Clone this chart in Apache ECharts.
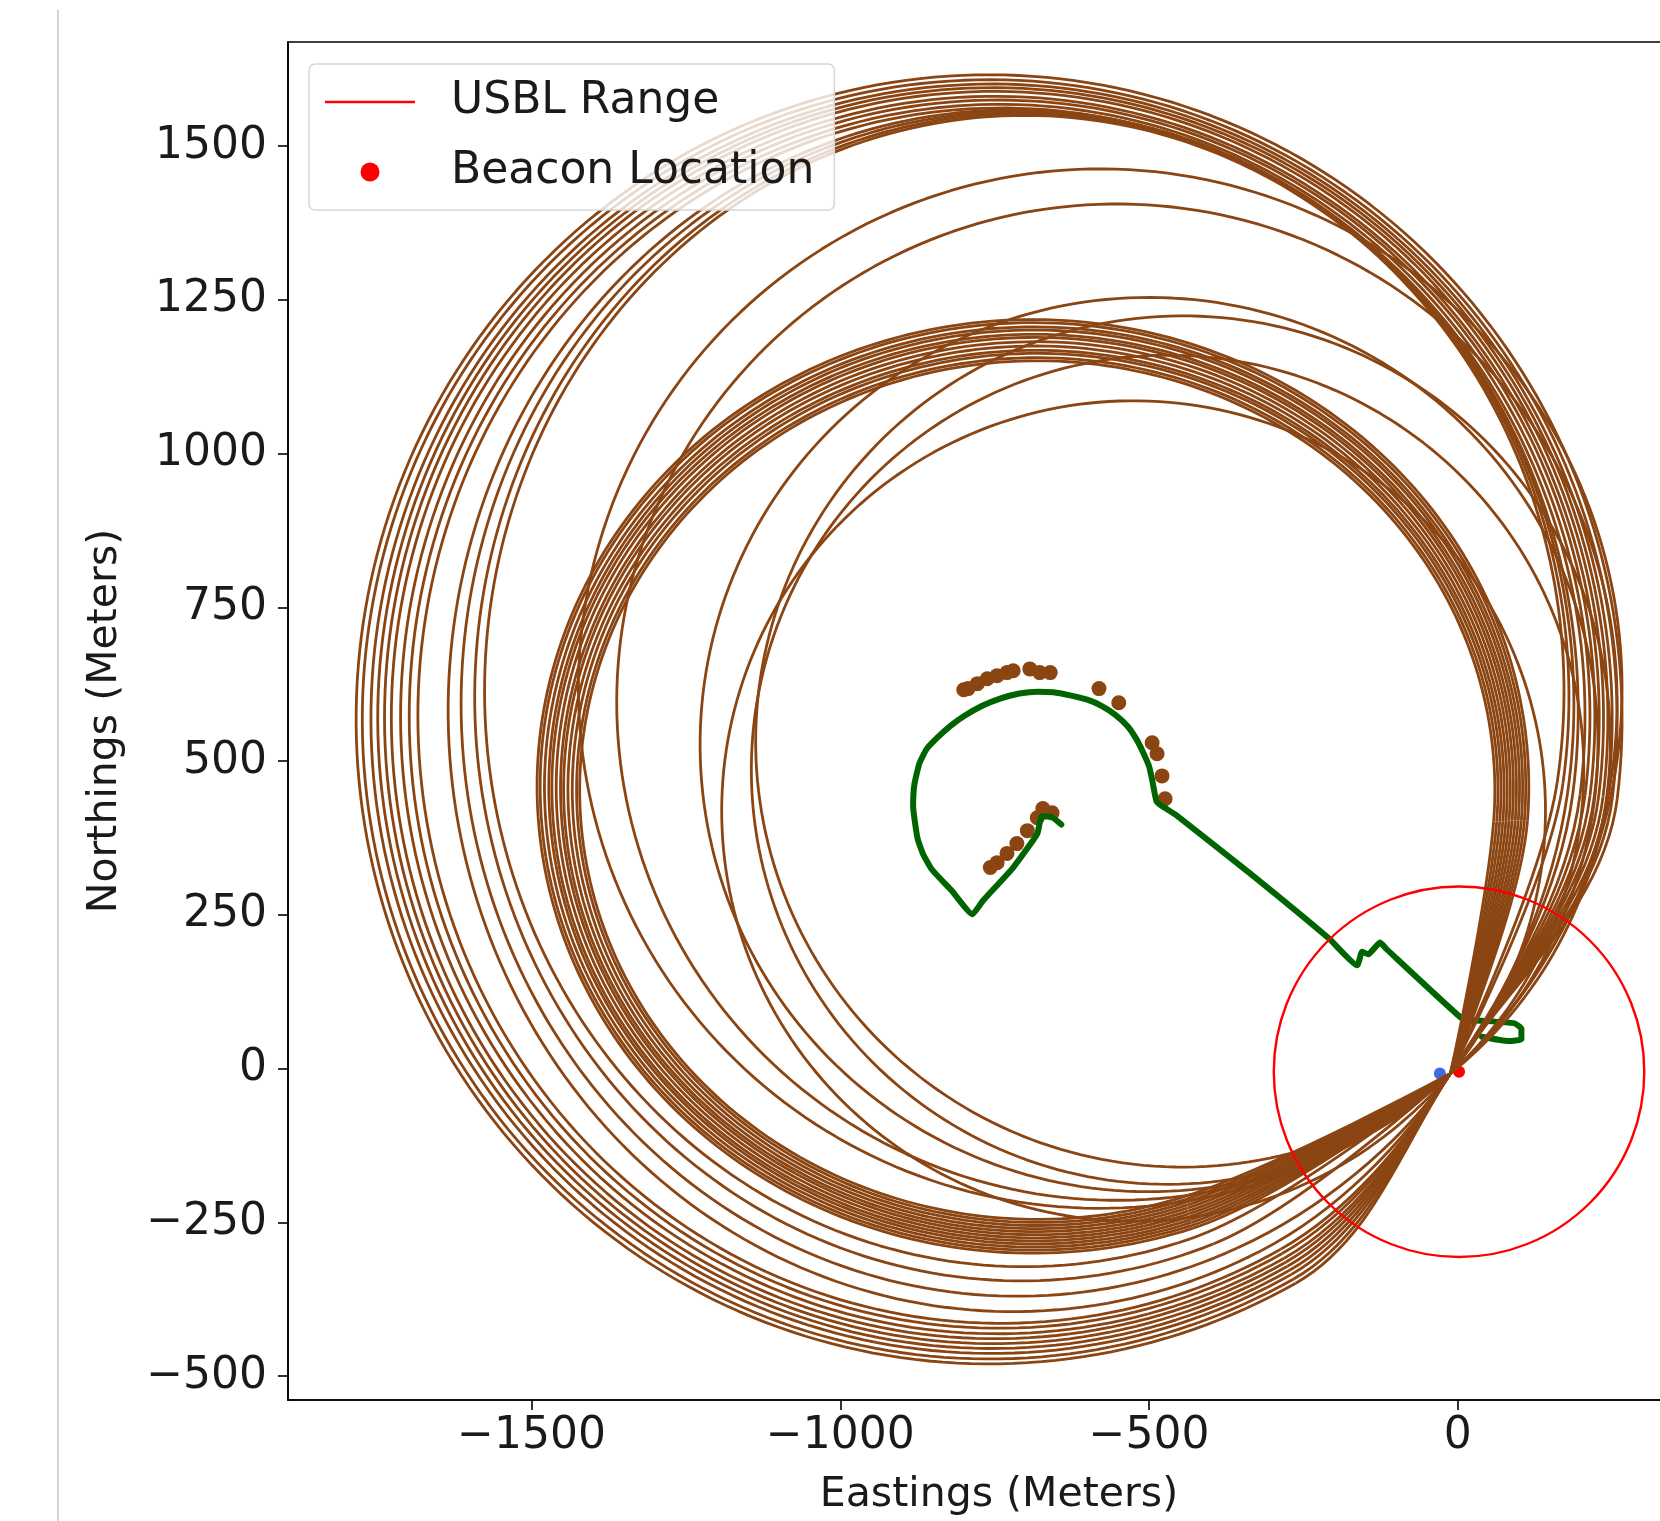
<!DOCTYPE html>
<html>
<head>
<meta charset="utf-8">
<script src="https://cdn.jsdelivr.net/npm/echarts@6/dist/echarts.min.js"></script>
<style>
  html, body { margin: 0; padding: 0; background: #fff; overflow: hidden; }
  #chart { width: 1720px; height: 1521px; }
</style>
</head>
<body>
<div id="chart"></div>
<script>
// point where every brown loop passes through (m)
const pinch = [-12, -8];

// brown loops: centre, half widths, and the angular span (deg) left open around the pinch
const loopCx = [-759, -758, -755, -753, -751, -749, -745, -742, -739,
                -720, -713, -706, -702,
                -688, -688, -687, -686, -686, -685, -684, -684, -683, -682, -681, -681,
                -579, -552, -500, -445, -525, -470];
const loopCy = [568, 568, 569, 570, 571, 571, 572, 573, 574,
                582, 593, 604, 614,
                459, 459, 458, 458, 457, 457, 456, 455, 454, 454, 453, 453,
                618, 596, 527, 532, 419, 486];
const loopRx = [1025, 1016, 1005, 996, 987, 978, 967, 956, 945,
                915, 901, 886, 874,
                803, 798, 792, 786, 781, 775, 769, 764, 758, 752, 746, 741,
                845, 810, 727, 692, 667, 674];
const loopRy = [1048, 1040, 1032, 1025, 1018, 1010, 1003, 995, 988,
                977, 963, 949, 936,
                759, 754, 748, 743, 737, 732, 726, 720, 714, 709, 703, 698,
                845, 810, 727, 692, 667, 674];
const loopGapIn = [24, 24, 24, 24, 24, 24, 24, 24, 24,
                   26, 28, 30, 32,
                   35, 35, 35, 35, 35, 35, 35, 35, 35, 35, 35, 35,
                   10, 10, 10, 10, 10, 10];
const loopGapOut = [30, 30, 30, 30, 30, 30, 30, 30, 30,
                    30, 30, 31, 31,
                    32, 32, 32, 32, 32, 32, 32, 32, 32, 32, 32, 32,
                    10, 10, 10, 10, 10, 10];

// vehicle track (green)
const trackEast = [-642, -660, -674, -681, -720, -769, -786, -820, -851, -866, -875, -882, -880, -872, -860, -842, -822, -800,
                   -770, -740, -710, -680, -655, -628, -600, -577, -554, -534, -520, -509, -500, -495, -488, -479, -457, -337, -209,
                   -163, -155, -145, -126, -115, 5, 22, 91, 103, 103, 82, 39];
const trackNorth = [397, 410, 410, 382, 327, 273, 251, 290, 323, 349, 375, 427, 462, 496, 520, 539, 557, 573,
                    590, 602, 610, 613, 612, 607, 600, 590, 575, 556, 535, 513, 492, 470, 435, 427, 413, 318, 212,
                    168, 190, 186, 205, 194, 83, 79, 74, 65, 48, 45, 52];

// brown fixes near the track
const fixEast = [-800, -793, -778, -762, -746, -730, -720, -693, -677, -660, -581, -549,
                 -495, -487, -479, -474, -672, -657, -681, -697, -714, -730, -746, -757];
const fixNorth = [616, 618, 626, 634, 639, 644, 647, 650, 644, 644, 618, 595,
                  530, 512, 476, 439, 423, 416, 408, 387, 366, 350, 335, 327];

// beacon, surface estimate and USBL range
const beacon = [2, -5];
const estimate = [-29, -8];
const usblRange = 300;

const xTicks = [-1500, -1000, -500, 0];
const yTicks = [-500, -250, 0, 250, 500, 750, 1000, 1250, 1500];

const brown = '#8B4513';
const font = 'DejaVu Sans';
const fmt = v => (v < 0 ? '\u2212' + Math.abs(v) : String(v));

const loopData = loopCx.map((cx, i) => [cx, loopCy[i], loopRx[i], loopRy[i], loopGapIn[i], loopGapOut[i]]);

function renderLoop(params, api) {
  const cx = api.value(0), cy = api.value(1), rx = api.value(2), ry = api.value(3);
  const gIn = api.value(4) * Math.PI / 180, gOut = api.value(5) * Math.PI / 180;
  const c = api.coord([cx, cy]);
  const sz = api.size([rx, ry]);
  const p = api.coord(pinch);
  const ux = (pinch[0] - cx) / rx, uy = (pinch[1] - cy) / ry;
  const phi = Math.atan2(uy, ux);
  // pinch outside the loop -> pointed tip, otherwise a smooth pass
  const tip = Math.hypot(ux, uy) > 1.01;
  const pt = t => [c[0] + sz[0] * Math.cos(t), c[1] - sz[1] * Math.sin(t)];
  const tan = t => {
    const dx = -sz[0] * Math.sin(t), dy = -sz[1] * Math.cos(t);
    const l = Math.hypot(dx, dy);
    return [dx / l, dy / l];
  };
  const t0 = phi + gOut, t1 = phi + 2 * Math.PI - gIn;
  const pts = [];
  for (let i = 0; i <= 240; i++) pts.push(pt(t0 + (t1 - t0) * i / 240));
  const S = pts[0], E = pts[pts.length - 1];
  let d = [S[0] - E[0], S[1] - E[1]];
  const dl = Math.hypot(d[0], d[1]);
  d = [d[0] / dl, d[1] / dl];
  const kE = Math.hypot(p[0] - E[0], p[1] - E[1]) / 3;
  const kS = Math.hypot(S[0] - p[0], S[1] - p[1]) / 3;
  const hE = tip ? 0 : kE, hS = tip ? 0 : kS;
  const tE = tan(t1), tS = tan(t0);
  const style = { stroke: brown, lineWidth: 2.8, fill: null, lineJoin: 'round' };
  return {
    type: 'group',
    children: [
      { type: 'polyline', shape: { points: pts }, style },
      { type: 'bezierCurve', shape: {
          x1: E[0], y1: E[1], cpx1: E[0] + tE[0] * kE, cpy1: E[1] + tE[1] * kE,
          cpx2: p[0] - d[0] * hE, cpy2: p[1] - d[1] * hE, x2: p[0], y2: p[1] }, style },
      { type: 'bezierCurve', shape: {
          x1: p[0], y1: p[1], cpx1: p[0] + d[0] * hS, cpy1: p[1] + d[1] * hS,
          cpx2: S[0] - tS[0] * kS, cpy2: S[1] - tS[1] * kS, x2: S[0], y2: S[1] }, style }
    ]
  };
}

function renderRange(params, api) {
  const c = api.coord([api.value(0), api.value(1)]);
  const s = api.size([api.value(2), api.value(2)]);
  return {
    type: 'circle',
    shape: { cx: c[0], cy: c[1], r: s[0] },
    style: { stroke: 'red', lineWidth: 2.4, fill: null }
  };
}

const axisCommon = {
  type: 'value',
  nameLocation: 'middle',
  nameTextStyle: { fontFamily: font, fontSize: 41, color: '#1a1a1a' },
  axisLine: { show: true, onZero: false, lineStyle: { color: '#000', width: 1.6 } },
  splitLine: { show: false }
};

const chart = echarts.init(document.getElementById('chart'));
chart.setOption({
  animation: false,
  backgroundColor: '#fff',
  graphic: [{
    type: 'line', shape: { x1: 58, y1: 10, x2: 58, y2: 1521 },
    style: { stroke: '#d4d4d4', lineWidth: 2 }
  }],
  grid: {
    left: 288, top: 42, width: 1422, height: 1358,
    show: true, borderColor: '#000', borderWidth: 1.6, backgroundColor: 'transparent'
  },
  legend: {
    left: 309, top: 64, orient: 'vertical', z: 10,
    padding: [13, 20, 13, 16],
    itemWidth: 90, itemHeight: 19, itemGap: 20,
    backgroundColor: 'rgba(255,255,255,0.8)', borderColor: '#d6d6d6', borderWidth: 1.5, borderRadius: 6,
    selectedMode: false,
    textStyle: { fontFamily: font, fontSize: 44, color: '#1a1a1a', lineHeight: 50, padding: [0, 0, 0, 31] },
    data: [
      { name: 'USBL Range', icon: 'path://M0,0h90v2.6h-90z', itemStyle: { color: 'red', borderWidth: 0 } },
      { name: 'Beacon Location', icon: 'circle', itemStyle: { color: 'red', borderWidth: 0 } }
    ]
  },
  xAxis: Object.assign({}, axisCommon, {
    min: -1894.3, max: 408.4,
    name: 'Eastings (Meters)', nameGap: 75,
    axisTick: { show: true, length: 10, customValues: xTicks, lineStyle: { color: '#000', width: 1.6 } },
    axisLabel: { customValues: xTicks, formatter: fmt, margin: 15, fontFamily: font, fontSize: 44, color: '#1a1a1a' }
  }),
  yAxis: Object.assign({}, axisCommon, {
    min: -538.7, max: 1669.3,
    name: 'Northings (Meters)', nameGap: 162, nameRotate: 90,
    axisTick: { show: true, length: 10, customValues: yTicks, lineStyle: { color: '#000', width: 1.6 } },
    axisLabel: { customValues: yTicks, formatter: fmt, margin: 21, fontFamily: font, fontSize: 44, color: '#1a1a1a' }
  }),
  series: [
    {
      name: 'Estimate', type: 'scatter', z: 1, symbolSize: 12,
      itemStyle: { color: '#4169E1', opacity: 1 }, data: [estimate]
    },
    {
      name: 'Beacon Location', type: 'scatter', z: 1, symbolSize: 12,
      itemStyle: { color: 'red', opacity: 1 }, data: [beacon]
    },
    {
      name: 'Fixes', type: 'scatter', z: 2, symbolSize: 15,
      itemStyle: { color: brown, opacity: 1 }, data: fixEast.map((x, i) => [x, fixNorth[i]])
    },
    {
      name: 'Track', type: 'line', z: 3, showSymbol: false, symbol: 'none', smooth: 0.15,
      lineStyle: { color: '#006400', width: 6, join: 'round', cap: 'round' },
      data: trackEast.map((x, i) => [x, trackNorth[i]])
    },
    {
      name: 'Loops', type: 'custom', z: 4, clip: true,
      renderItem: renderLoop, encode: { x: 0, y: 1 }, data: loopData
    },
    {
      name: 'USBL Range', type: 'custom', z: 5, color: 'red',
      renderItem: renderRange, encode: { x: 0, y: 1 },
      data: [[beacon[0], beacon[1], usblRange]]
    }
  ]
});
</script>
</body>
</html>
